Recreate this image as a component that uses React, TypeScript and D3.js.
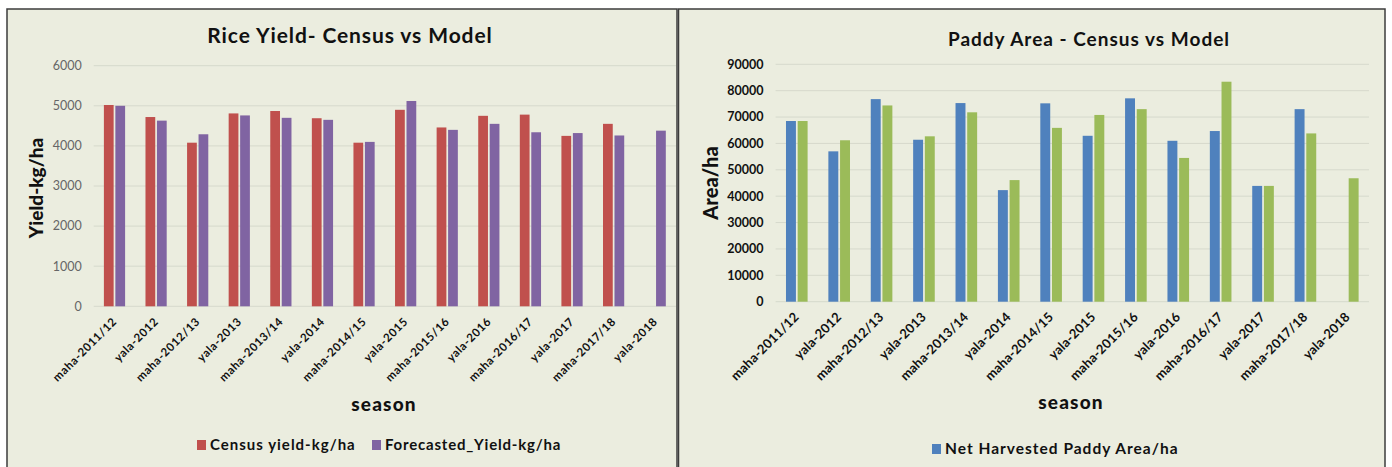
import React from 'react';
import * as d3 from 'd3';

const seasons = [
  'maha-2011/12', 'yala-2012', 'maha-2012/13', 'yala-2013', 'maha-2013/14', 'yala-2014', 'maha-2014/15',
  'yala-2015', 'maha-2015/16', 'yala-2016', 'maha-2016/17', 'yala-2017', 'maha-2017/18', 'yala-2018',
];
const censusYield: (number | null)[] = [5020, 4720, 4080, 4810, 4870, 4690, 4080, 4900, 4460, 4750, 4780, 4250, 4550, null];
const forecastYield: (number | null)[] = [5000, 4630, 4290, 4760, 4700, 4650, 4100, 5120, 4400, 4550, 4340, 4320, 4260, 4380];
const yieldTicks = [0, 1000, 2000, 3000, 4000, 5000, 6000];

const netArea: (number | null)[] = [68500, 57000, 76800, 61400, 75300, 42300, 75200, 62900, 77100, 61000, 64700, 43900, 73000, null];
const modelArea: (number | null)[] = [68500, 61200, 74400, 62700, 71800, 46100, 65900, 70800, 73000, 54500, 83400, 43900, 63800, 46800];
const areaTicks = [0, 10000, 20000, 30000, 40000, 50000, 60000, 70000, 80000, 90000];

const FONT = 'Lato, "Open Sans", sans-serif';
const BG = '#EBEDDF';

type Series = { name: string; values: (number | null)[]; color: string };

type PanelProps = {
  box: { x: number; y: number; w: number; h: number };
  plot: { left: number; right: number; top: number; bottom: number };
  ticks: number[];
  series: Series[];
  title: string;
  titleX: number;
  titleY: number;
  titleSize: number;
  titleSpacing: number;
  yLabel: string;
  yLabelX: number;
  yLabelY: number;
  yLabelSize: number;
  tickColor: string;
  tickWeight: string;
  tickSize: number;
  xTickSize: number;
  xTickSpacing: number;
  xTickDy: number;
  seasonX: number;
  seasonY: number;
  legend: { series: Series; x: number; y: number; size: number; spacing: number }[];
};

function Panel(p: PanelProps) {
  const { plot } = p;
  const y = d3.scaleLinear().domain([p.ticks[0], p.ticks[p.ticks.length - 1]]).range([plot.bottom, plot.top]);
  const x0 = d3.scaleBand<string>().domain(seasons).range([plot.left, plot.right]).paddingInner(0.49).paddingOuter(0.245);
  const x1 = d3.scaleBand<string>().domain(p.series.map((s) => s.name)).range([0, x0.bandwidth()]).paddingInner(0.15);
  const step = x0.step();
  return (
    <g>
      <rect x={p.box.x} y={p.box.y} width={p.box.w} height={p.box.h} fill={BG} stroke="#3c3c3c" strokeWidth={1.5} />
      {p.ticks.map((t) => (
        <g key={t}>
          <line x1={plot.left} x2={plot.right} y1={y(t)} y2={y(t)} stroke="#d6d9cc" strokeWidth={1} />
          <text x={plot.left - 12} y={y(t)} dy="0.35em" textAnchor="end" fontFamily={FONT} fontSize={p.tickSize}
            fontWeight={p.tickWeight} fill={p.tickColor}>{t}</text>
        </g>
      ))}
      {p.series.map((s) =>
        s.values.map((v, i) =>
          v == null ? null : (
            <rect key={s.name + i} x={(x0(seasons[i]) as number) + (x1(s.name) as number)} y={y(v)}
              width={x1.bandwidth()} height={y(0) - y(v)} fill={s.color} />
          )
        )
      )}
      {seasons.map((s, i) => {
        const cx = plot.left + step * (i + 0.5);
        return (
          <text key={s} transform={`translate(${cx + 3},${plot.bottom + p.xTickDy}) rotate(-45)`} textAnchor="end"
            fontFamily={FONT} fontSize={p.xTickSize} fontWeight="bold" letterSpacing={p.xTickSpacing} fill="#111">{s}</text>
        );
      })}
      <text x={p.titleX} y={p.titleY} textAnchor="middle" fontFamily={FONT} fontSize={p.titleSize} fontWeight="bold"
        letterSpacing={p.titleSpacing} fill="#111">{p.title}</text>
      <text transform={`translate(${p.yLabelX},${p.yLabelY}) rotate(-90)`} textAnchor="middle" fontFamily={FONT}
        fontSize={p.yLabelSize} fontWeight="900" fill="#111">{p.yLabel}</text>
      <text x={p.seasonX} y={p.seasonY} textAnchor="middle" fontFamily={FONT} fontSize={19} fontWeight="900"
        letterSpacing={1.2} fill="#111">season</text>
      {p.legend.map((l) => (
        <g key={l.series.name}>
          <rect x={l.x} y={l.y - 10} width={9} height={10} fill={l.series.color} />
          <text x={l.x + 13} y={l.y} fontFamily={FONT} fontSize={l.size} fontWeight="bold" letterSpacing={l.spacing}
            fill="#111">{l.series.name}</text>
        </g>
      ))}
    </g>
  );
}

export default function App() {
  const census: Series = { name: 'Census yield-kg/ha', values: censusYield, color: '#C0504D' };
  const forecast: Series = { name: 'Forecasted_Yield-kg/ha', values: forecastYield, color: '#8064A2' };
  const net: Series = { name: 'Net Harvested Paddy Area/ha', values: netArea, color: '#4F81BD' };
  const model: Series = { name: 'Model Paddy Area/ha', values: modelArea, color: '#9BBB59' };
  return (
    <svg width={1392} height={467} style={{ position: 'absolute', left: 0, top: 0, background: '#fff' }}>
      <Panel
        box={{ x: 7, y: 9, w: 670, h: 470 }}
        plot={{ left: 93.7, right: 676, top: 65.7, bottom: 306.3 }}
        ticks={yieldTicks}
        series={[census, forecast]}
        title="Rice Yield- Census vs Model"
        titleX={350} titleY={43} titleSize={21} titleSpacing={0.9}
        yLabel="Yield-kg/ha" yLabelX={43} yLabelY={188} yLabelSize={19}
        tickColor="#666" tickWeight="normal" tickSize={12.5}
        xTickSize={11.5} xTickSpacing={0.6} xTickDy={16}
        seasonX={384} seasonY={411}
        legend={[
          { series: census, x: 197, y: 450, size: 15, spacing: 1 },
          { series: forecast, x: 372, y: 450, size: 15, spacing: 0.8 },
        ]}
      />
      <Panel
        box={{ x: 678.5, y: 9, w: 706.5, h: 470 }}
        plot={{ left: 775.6, right: 1369, top: 64.3, bottom: 301.7 }}
        ticks={areaTicks}
        series={[net, model]}
        title="Paddy Area - Census vs Model"
        titleX={1089} titleY={46} titleSize={19} titleSpacing={1}
        yLabel="Area/ha" yLabelX={718} yLabelY={183} yLabelSize={20}
        tickColor="#111" tickWeight="bold" tickSize={12.5}
        xTickSize={13} xTickSpacing={0.2} xTickDy={16}
        seasonX={1071} seasonY={409}
        legend={[{ series: net, x: 932, y: 454, size: 15.5, spacing: 1 }]}
      />
    </svg>
  );
}
